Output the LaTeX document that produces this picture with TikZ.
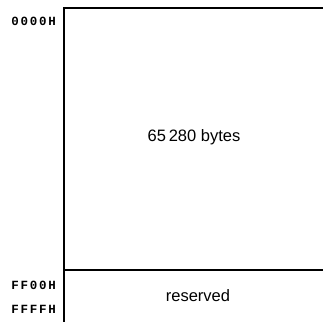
\documentclass[tikz,border=0pt]{standalone}
\usepackage{fontspec}
\setmainfont{Liberation Sans}
\newfontfamily\addrfont[LetterSpace=14]{Liberation Mono}
\begin{document}
\begin{tikzpicture}[x=1pt,y=-1pt,
  wall/.style={line width=1.4pt, line cap=rect},
  addr/.style={font=\addrfont\bfseries\fontsize{12.5}{15}\selectfont, anchor=east, inner sep=0pt},
  region/.style={font=\fontsize{16.5}{19}\selectfont, inner sep=0pt}]
\useasboundingbox (0,0) rectangle (323,321);
\coordinate (tl) at (64,8);
\coordinate (tr) at (323,8);
\coordinate (bl) at (64,321);
\coordinate (ml) at (64,270);
\coordinate (mr) at (323,270);
\draw[wall] (tr) -- (tl) -- (bl);
\draw[line width=1.2pt] (ml) -- (mr);
\node[addr] (a0) at (56,21) {0000H};
\node[addr] (a1) at (56,285) {FF00H};
\node[addr] (a2) at (56,309) {FFFFH};
\node[region] (main) at (194,137) {65\,280 bytes};
\node[region] (res) at (198,296) {reserved};
\end{tikzpicture}
\end{document}
